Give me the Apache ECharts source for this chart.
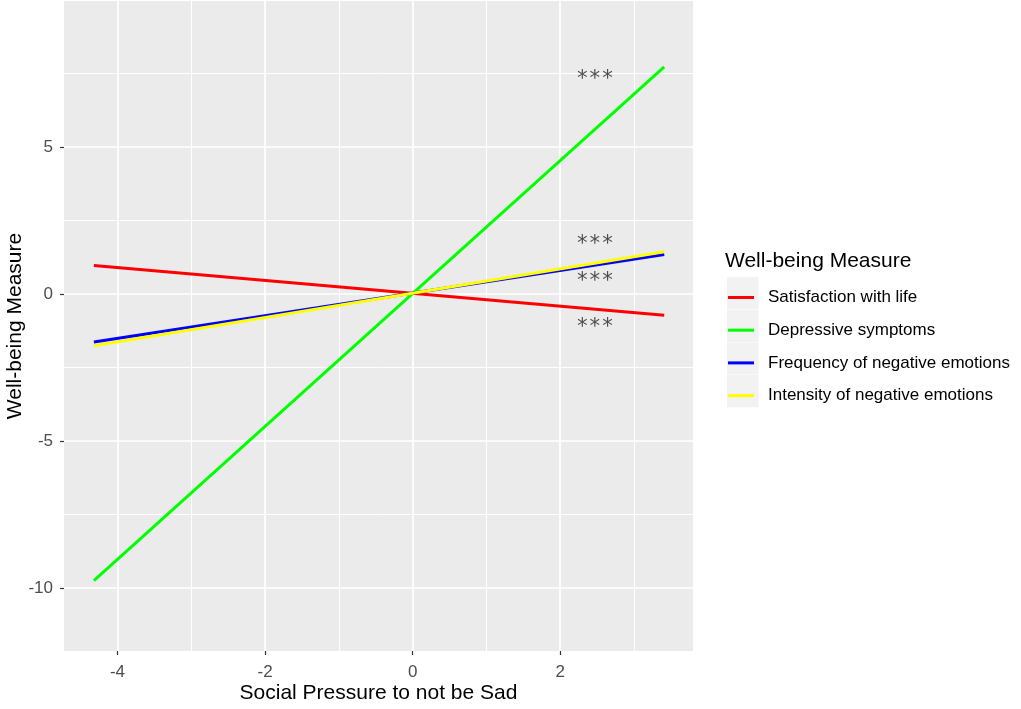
<!DOCTYPE html>
<html>
<head>
<meta charset="utf-8">
<script src="https://cdn.jsdelivr.net/npm/echarts@6/dist/echarts.min.js"></script>
<style>
html,body{margin:0;padding:0;background:#fff;}
#chart{width:1021px;height:709px;}
</style>
</head>
<body>
<div id="chart"></div>
<script>
// ---- data ----
var seriesNames = ['Satisfaction with life', 'Depressive symptoms', 'Frequency of negative emotions', 'Intensity of negative emotions'];
var seriesColors = ['#FF0000', '#00FF00', '#0000FF', '#FFFF00'];
var xValues = [-4.32, 3.41];
var satisfaction = [0.97, -0.72];
var depressive = [-9.75, 7.73];
var frequency = [-1.63, 1.35];
var intensity = [-1.76, 1.44];
var annotX = [2.47, 2.47, 2.47, 2.47];
var annotY = [7.3, 1.7, 0.42, -1.13];
var annotText = ['***', '***', '***', '***'];
var xMajorTicks = [-4, -2, 0, 2];
var xMinorTicks = [-3, -1, 1, 3];
var yMajorTicks = [-10, -5, 0, 5];
var yMinorTicks = [-7.5, -2.5, 2.5, 7.5];
var xRange = [-4.725, 3.80];
var yRange = [-12.14, 9.97];

var valuesBySeries = [satisfaction, depressive, frequency, intensity];

function pairs(xs, ys) {
  return xs.map(function (x, i) { return [x, ys[i]]; });
}

var chart = echarts.init(document.getElementById('chart'), null, {renderer: 'canvas'});

var tickStyle = {show: true, length: 4, lineStyle: {color: '#333333', width: 1.2}};
var labelFont = 'Liberation Sans, Arial, sans-serif';

var series = seriesNames.map(function (name, i) {
  return {
    name: name,
    type: 'line',
    data: pairs(xValues, valuesBySeries[i]),
    symbol: 'none',
    lineStyle: {color: seriesColors[i], width: 3},
    itemStyle: {color: seriesColors[i]},
    animation: false,
    z: 3 + i
  };
});
series.push({
  name: 'annot',
  type: 'scatter',
  data: annotX.map(function (x, i) { return {value: [x, annotY[i]], label: {formatter: annotText[i]}}; }),
  symbol: 'circle',
  symbolSize: 1,
  itemStyle: {color: 'rgba(0,0,0,0)'},
  silent: true,
  animation: false,
  label: {
    show: true,
    position: 'inside',
    fontFamily: 'DejaVu Sans Mono, monospace',
    fontSize: 21,
    color: '#262626'
  },
  z: 10
});

var legendBoxes = [];
for (var k = 0; k < 4; k++) {
  legendBoxes.push({
    type: 'rect',
    left: 727,
    top: 277 + k * 32.7,
    shape: {width: 31.5, height: 32.2},
    style: {fill: '#F2F2F2'},
    z: 1
  });
}
legendBoxes.push({
  type: 'text',
  left: 725,
  top: 251,
  style: {text: 'Well-being Measure', fontSize: 21, fontFamily: labelFont, fill: '#000000'},
  z: 5
});

var option = {
  backgroundColor: '#FFFFFF',
  animation: false,
  grid: {
    left: 64, right: 328, top: 1, bottom: 58,
    outerBoundsMode: 'none',
    containLabel: false,
    show: true, backgroundColor: '#EBEBEB', borderWidth: 0
  },
  xAxis: [{
    type: 'value',
    min: xRange[0], max: xRange[1],
    name: 'Social Pressure to not be Sad',
    nameLocation: 'middle',
    nameGap: 32,
    nameMoveOverlap: false,
    nameTextStyle: {fontSize: 21, fontFamily: labelFont, color: '#000000'},
    axisLine: {show: false, onZero: false},
    axisTick: Object.assign({customValues: xMajorTicks}, tickStyle),
    axisLabel: {customValues: xMajorTicks, fontSize: 17, fontFamily: labelFont, color: '#4D4D4D', margin: 13},
    splitLine: {show: true, lineStyle: {color: '#FFFFFF', width: 1.7}}
  }, {
    type: 'value',
    min: xRange[0], max: xRange[1],
    position: 'bottom',
    axisLine: {show: false, onZero: false},
    axisTick: {show: false, customValues: xMinorTicks},
    axisLabel: {show: false, customValues: xMinorTicks},
    splitLine: {show: true, lineStyle: {color: '#FFFFFF', width: 1}}
  }],
  yAxis: [{
    type: 'value',
    min: yRange[0], max: yRange[1],
    name: 'Well-being Measure',
    nameLocation: 'middle',
    nameRotate: 90,
    nameGap: 38,
    nameMoveOverlap: false,
    nameTextStyle: {fontSize: 21, fontFamily: labelFont, color: '#000000'},
    axisLine: {show: false, onZero: false},
    axisTick: Object.assign({customValues: yMajorTicks}, tickStyle),
    axisLabel: {customValues: yMajorTicks, fontSize: 17, fontFamily: labelFont, color: '#4D4D4D', margin: 11},
    splitLine: {show: true, lineStyle: {color: '#FFFFFF', width: 1.7}}
  }, {
    type: 'value',
    min: yRange[0], max: yRange[1],
    position: 'left',
    axisLine: {show: false, onZero: false},
    axisTick: {show: false, customValues: yMinorTicks},
    axisLabel: {show: false, customValues: yMinorTicks},
    splitLine: {show: true, lineStyle: {color: '#FFFFFF', width: 1}}
  }],
  legend: {
    data: seriesNames,
    orient: 'vertical',
    left: 728,
    top: 289,
    padding: 0,
    itemWidth: 26,
    itemHeight: 3,
    itemGap: 15.7,
    icon: 'rect',
    textStyle: {fontSize: 17, lineHeight: 17, fontFamily: labelFont, color: '#000000', padding: [0, 0, 0, 9]},
    selectedMode: false,
    z: 5
  },
  graphic: legendBoxes,
  series: series
};
chart.setOption(option);
</script>
</body>
</html>
